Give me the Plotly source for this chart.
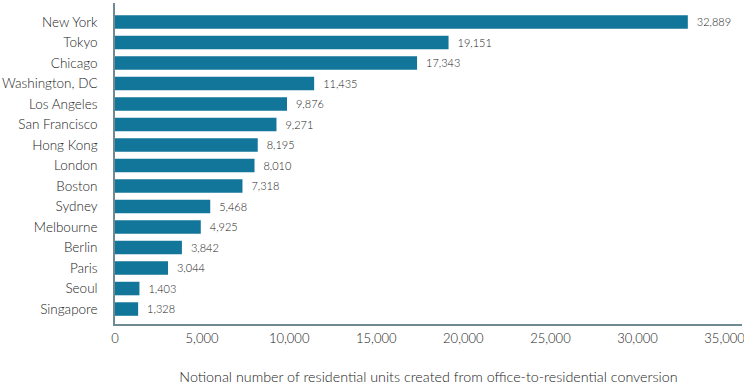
import plotly.graph_objects as go

cities = ["New York", "Tokyo", "Chicago", "Washington, DC", "Los Angeles", "San Francisco",
          "Hong Kong", "London", "Boston", "Sydney", "Melbourne", "Berlin", "Paris", "Seoul", "Singapore"]
units = [32889, 19151, 17343, 11435, 9876, 9271, 8195, 8010, 7318, 5468, 4925, 3842, 3044, 1403, 1328]
x_ticks = [0, 5000, 10000, 15000, 20000, 25000, 30000, 35000]
x_title = "Notional number of residential units created from office-to-residential conversion"

FONT = "Lato, Open Sans, sans-serif"
TXT = "#222222"
W = 300
fig = go.Figure(go.Bar(
    x=units, y=cities, orientation="h",
    marker=dict(color="#12759a", line=dict(width=0)),
    width=0.66,
    texttemplate="  %{x:,}", textposition="outside",
    textfont=dict(size=13, color=TXT, family=FONT, weight=W),
    cliponaxis=False,
))
fig.update_layout(
    width=744, height=391,
    margin=dict(l=115, r=2, t=3, b=67),
    plot_bgcolor="white", paper_bgcolor="white",
    font=dict(family=FONT, size=14, color=TXT, weight=W),
    showlegend=False,
    xaxis=dict(range=[0, 36000], tickvals=x_ticks, tickformat=",", showgrid=False,
               zeroline=False, showline=True, linecolor="#6f8a90", linewidth=1.5,
               ticks="", ticklabelstandoff=2, automargin=False, ticklabeloverflow="allow",
               tickfont=dict(size=13, color=TXT, weight=W),
               title=dict(text=x_title, standoff=27, font=dict(size=14.3, color=TXT, weight=W))),
    yaxis=dict(categoryorder="array", categoryarray=cities, range=[14.73, -0.93],
               showgrid=False, zeroline=False, showline=True, linecolor="#6f8a90", linewidth=1.5,
               ticks="", ticklabelstandoff=13, automargin=False,
               tickfont=dict(size=13.5, color=TXT, weight=W)),
)
fig.write_html("out.html", config={"displayModeBar": False},
               post_script="document.body.style.margin='0';")
